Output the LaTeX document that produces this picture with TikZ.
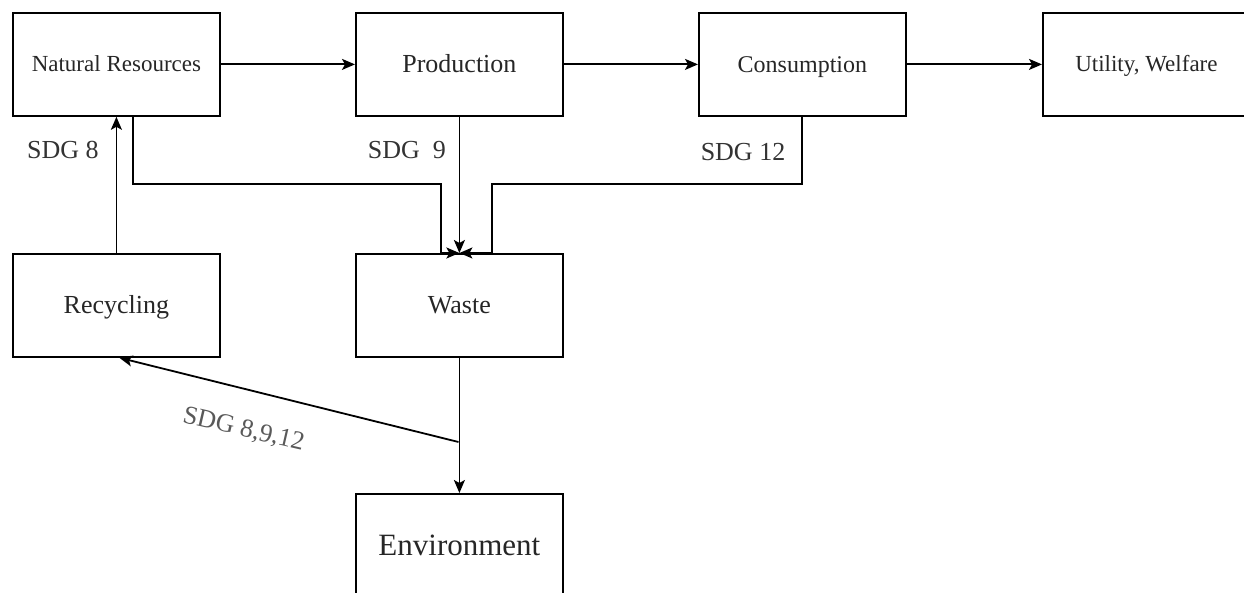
\documentclass[tikz,border=0pt]{standalone}
\usepackage{fontspec}
\setmainfont{Liberation Serif}
\usetikzlibrary{arrows.meta}
\begin{document}
\begin{tikzpicture}[x=1pt,y=-1pt,
  box/.style={draw, line width=1.8pt, minimum width=207pt, minimum height=103pt, inner sep=0pt, anchor=north west, text=black!85,
    font=\fontsize{#1}{#1}\selectfont, text height={0.66*#1pt}, text depth=0pt},
  arr/.style={-{Stealth[length=13pt,width=11pt,inset=3pt]}, line width=1.8pt},
  lab/.style={text=black!80, font=\fontsize{26}{30}\selectfont, inner sep=0pt, text height=17.2pt, text depth=0pt}]
\useasboundingbox (0,0) rectangle (1244,593);
\node[box=23] (nr) at (12,12) {Natural Resources};
\node[box=26] (prod) at (355,12) {Production};
\node[box=24] (cons) at (698,12) {Consumption};
\node[box=23] (util) at (1042,12) {Utility, Welfare};
\node[box=26] (rec) at (12,253) {Recycling};
\node[box=26] (waste) at (355,253) {Waste};
\node[box=31] (env) at (355,493) {Environment};
\coordinate (a1) at (133,184);
\coordinate (a2) at (441,184);
\coordinate (c1) at (802,184);
\coordinate (c2) at (492,184);
\coordinate (b1) at (458.5,442);
\draw[arr] (nr) -- (prod);
\draw[arr] (prod) -- (cons);
\draw[arr] (cons) -- (util);
\draw[arr] (rec.north) -- (rec.north |- nr.south);
\draw[arr] (nr.south -| a1) -- (a1) -- (a2) -- (a2 |- waste.north) -- (waste.north);
\draw[arr] (cons.south -| c1) -- (c1) -- (c2) -- (c2 |- waste.north) -- (waste.north);
\draw[arr] (prod.south) -- (waste.north);
\draw[arr] (waste.south) -- (env.north);
\draw[arr] (b1) -- ([xshift=3pt]rec.south);
\node[lab] (s8) at (63,150) {SDG 8};
\node[lab] (s9) at (407,150) {SDG\ \ 9};
\node[lab] (s12) at (743,152) {SDG 12};
\node[lab, rotate=-13, text=black!65] (s3) at (244,428) {SDG 8,9,12};
\end{tikzpicture}
\end{document}
